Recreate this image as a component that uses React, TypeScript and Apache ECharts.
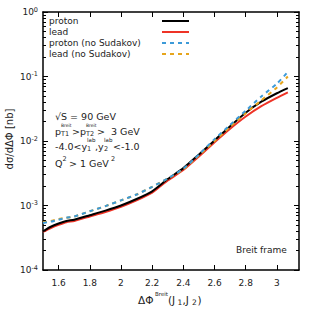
import React, { useEffect, useRef } from "react";
import * as echarts from "echarts";

const xValues = [1.5, 1.55, 1.6, 1.65, 1.7, 1.8, 1.9, 2.0, 2.1, 2.2, 2.3, 2.4, 2.5, 2.6, 2.7, 2.8, 2.9, 3.0, 3.07];
const proton = [3.98e-4, 4.68e-4, 5.25e-4, 5.75e-4, 6.03e-4, 7.08e-4, 8.32e-4, 1.0e-3, 1.26e-3, 1.66e-3, 2.57e-3, 3.8e-3, 6.17e-3, 1.02e-2, 1.7e-2, 2.75e-2, 4.07e-2, 5.5e-2, 6.61e-2];
const lead = [3.89e-4, 4.47e-4, 5.01e-4, 5.5e-4, 5.75e-4, 6.76e-4, 7.94e-4, 9.55e-4, 1.2e-3, 1.58e-3, 2.45e-3, 3.55e-3, 5.75e-3, 9.55e-3, 1.55e-2, 2.4e-2, 3.47e-2, 4.68e-2, 5.69e-2];
const protonNoSud = [5.37e-4, 5.62e-4, 6.03e-4, 6.46e-4, 6.76e-4, 8.13e-4, 9.77e-4, 1.2e-3, 1.48e-3, 1.95e-3, 2.63e-3, 3.72e-3, 6.17e-3, 1.07e-2, 1.78e-2, 2.95e-2, 4.9e-2, 7.76e-2, 0.1175];
const leadNoSud = [5.5e-4, 5.75e-4, 6.17e-4, 6.46e-4, 6.76e-4, 8.13e-4, 9.77e-4, 1.2e-3, 1.48e-3, 1.95e-3, 2.63e-3, 3.63e-3, 6.03e-3, 1.0e-2, 1.66e-2, 2.69e-2, 4.27e-2, 6.76e-2, 0.1];

const xTicks = [1.6, 1.8, 2.0, 2.2, 2.4, 2.6, 2.8, 3.0];
const yMajor = [1e-4, 1e-3, 1e-2, 1e-1, 1];
const yMinor = [2, 3, 4, 5, 6, 7, 8, 9].flatMap((m) => [m * 1e-4, m * 1e-3, m * 1e-2, m * 1e-1]);

const seriesNames = ["proton", "lead", "proton (no Sudakov)", "lead (no Sudakov)"];
const seriesData = [proton, lead, protonNoSud, leadNoSud];
const colors = ["#000000", "#ee3326", "#3c9ad8", "#e6a51c"];
const dashed = [false, false, true, true];

const FONT = "DejaVu Sans";

export default function App() {
  const ref = useRef<HTMLDivElement>(null);
  useEffect(() => {
    const chart = echarts.init(ref.current!, null, { renderer: "svg" });
    const grid = { left: 43, right: 17, top: 12, bottom: 46 };
    const yCommon = (pos: string, ticks: number[], len: number, labels: boolean, line: boolean) => ({
      type: "log",
      logBase: 10,
      min: 1e-4,
      max: 1,
      position: pos,
      axisLine: { show: line, lineStyle: { color: "#000", width: 1.5 } },
      axisTick: { show: true, inside: true, length: len, customValues: ticks, lineStyle: { color: "#000", width: 1 } },
      splitLine: { show: false },
      axisLabel: labels
        ? {
            show: true,
            customValues: yMajor,
            margin: 5,
            formatter: (v: number) => "{b|10}{s|" + Math.round(Math.log10(v)) + "}",
            rich: {
              b: { fontFamily: FONT, fontSize: 9, color: "#222" },
              s: { fontFamily: FONT, fontSize: 6.5, color: "#222", verticalAlign: "top", padding: [0, 0, 5, 0] },
            },
          }
        : { show: false },
    });
    const xCommon = (pos: string, labels: boolean) => ({
      type: "value",
      min: 1.5,
      max: 3.1416,
      position: pos,
      axisLine: { show: true, lineStyle: { color: "#000", width: 1.5 } },
      axisTick: { show: true, inside: true, length: 5, customValues: xTicks, lineStyle: { color: "#000", width: 1 } },
      splitLine: { show: false },
      axisLabel: labels
        ? { show: true, customValues: xTicks, margin: 8, fontFamily: FONT, fontSize: 9, color: "#222", formatter: (v: number) => String(Math.round(v * 10) / 10) }
        : { show: false },
    });

    const t = (text: string, x: number, y: number, size = 9, extra: any = {}) => ({
      type: "text",
      x,
      y,
      style: { text, fontFamily: FONT, fontSize: size, fill: "#222", align: "left", verticalAlign: "middle", ...extra },
    });

    const legendGraphics: any[] = [];
    const legendY = [21, 32, 43, 54];
    seriesNames.forEach((n, i) => {
      legendGraphics.push(t(n, 49, legendY[i], 9));
      legendGraphics.push({
        type: "line",
        shape: { x1: 162, y1: legendY[i], x2: 189, y2: legendY[i] },
        style: { stroke: colors[i], lineWidth: 2, lineDash: dashed[i] ? [4, 4] : null },
      });
    });

    const annot: any[] = [
      // sqrt S
      t("√S = 90 GeV", 55, 116, 9.5),
      // p_T1^Breit > p_T2^Breit > 3 GeV
      t("p", 55, 131, 9.5),
      t("T1", 61, 134, 6.5),
      t("Breit", 61, 125, 4.5),
      t(">", 72, 131, 9.5),
      t("p", 80, 131, 9.5),
      t("T2", 86, 134, 6.5),
      t("Breit", 86, 125, 4.5),
      t(">", 97, 131, 9.5),
      t("3 GeV", 111, 131, 9.5),
      // rapidity
      t("-4.0<y", 55, 146, 9.5),
      t("1", 87, 149, 6.5),
      t("lab", 87, 140, 5.5),
      t(",", 95, 146, 9.5),
      t("y", 98, 146, 9.5),
      t("2", 104, 149, 6.5),
      t("lab", 104, 140, 5.5),
      t("<-1.0", 113, 146, 9.5),
      // Q^2
      t("Q", 55, 163, 9.5),
      t("2", 62.5, 159, 6.5),
      t("> 1 GeV", 69, 163, 9.5),
      t("2", 111, 159, 6.5),
      // Breit frame
      t("Breit frame", 236, 250, 9),
      // x title
      t("ΔΦ", 138, 300, 10.5),
      t("Breit", 155, 294, 5.5),
      t("(J", 168, 300, 10.5),
      t("1", 177.5, 302.5, 7.5),
      t(",J", 182.5, 300, 10.5),
      t("2", 192, 302.5, 7.5),
      t(")", 197.5, 300, 10.5),
      // y title
      {
        type: "text",
        x: 9,
        y: 139,
        rotation: Math.PI / 2,
        style: { text: "dσ/dΔΦ [nb]", fontFamily: FONT, fontSize: 10, fill: "#222", align: "center", verticalAlign: "middle" },
      },
    ];

    chart.setOption({
      animation: false,
      backgroundColor: "#fff",
      grid,
      xAxis: [xCommon("bottom", true), xCommon("top", false)],
      yAxis: [
        yCommon("left", yMajor, 5, true, true),
        yCommon("left", yMinor, 3, false, false),
        yCommon("right", yMajor, 5, false, true),
        yCommon("right", yMinor, 3, false, false),
      ],
      series: seriesNames.map((n, i) => ({
        name: n,
        type: "line",
        xAxisIndex: 0,
        yAxisIndex: 0,
        showSymbol: false,
        smooth: 0.2,
        z: 10 - i + (i >= 2 ? 10 : 0),
        data: xValues.map((x, k) => [x, seriesData[i][k]]),
        lineStyle: { color: colors[i], width: 2, type: dashed[i] ? [4, 4] : "solid" },
        itemStyle: { color: colors[i] },
      })),
      graphic: [...legendGraphics, ...annot],
    });
    return () => chart.dispose();
  }, []);
  return <div ref={ref} style={{ position: "fixed", left: 0, top: 0, width: 316, height: 316 }} />;
}
